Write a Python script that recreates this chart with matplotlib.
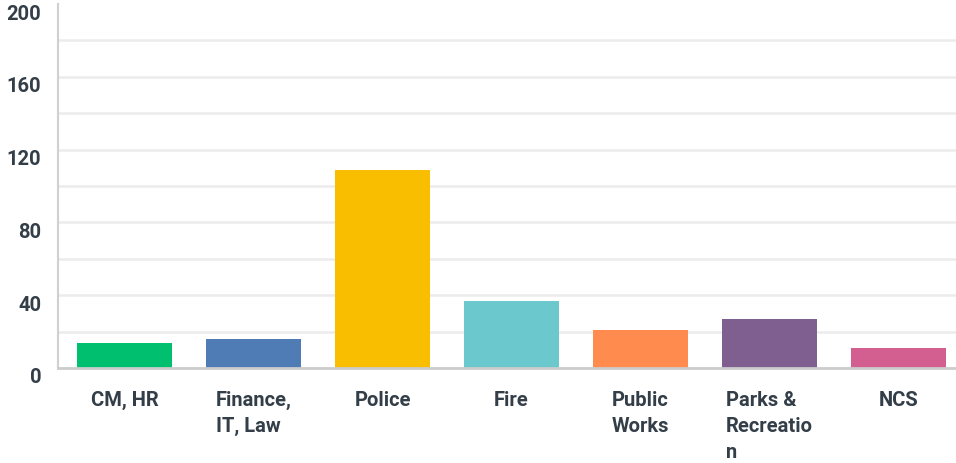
import matplotlib
matplotlib.use("Agg")
import matplotlib.pyplot as plt
import matplotlib.transforms as mtransforms

# Survey responses by department
departments = ["CM, HR", "Finance,\nIT, Law", "Police", "Fire",
               "Public\nWorks", "Parks &\nRecreatio\nn", "NCS"]
responses = [14, 16, 109, 37, 21, 27, 11]
bar_colors = ["#00bf6f", "#507cb6", "#f9be00", "#6bc8cd",
              "#ff8b4f", "#7f5f90", "#d25f90"]
y_labels = [0, 40, 80, 120, 160, 200]
grid_levels = [20, 40, 60, 80, 100, 120, 140, 160, 180]

text_color = "#333e48"
font = ["Roboto", "DejaVu Sans"]

W, H = 956, 464
fig = plt.figure(figsize=(W / 100, H / 100), dpi=100)
ax = fig.add_axes([58 / W, (H - 369) / H, (956 - 58) / W, (369 - 5) / H])

x = list(range(len(departments)))
ax.bar(x, responses, width=0.736, color=bar_colors, zorder=3)

ax.set_xlim(-0.516, 6.446)
ax.set_ylim(0, 200)

for g in grid_levels:
    ax.axhline(g, color="#ececec", lw=1.8, zorder=1)

for side in ["top", "right"]:
    ax.spines[side].set_visible(False)
ax.spines["left"].set_color("#d0d0d0")
ax.spines["left"].set_linewidth(1.5)
ax.spines["bottom"].set_color("#cccccc")
ax.spines["bottom"].set_linewidth(2)
ax.spines["bottom"].set_zorder(4)

ax.set_yticks(y_labels)
ax.set_yticklabels([str(v) for v in y_labels], fontsize=14.5, color=text_color,
                   family=font, weight="bold")
ax.tick_params(axis="y", length=0, pad=12)
offset = mtransforms.ScaledTranslation(0, -7 / 100, fig.dpi_scale_trans)
for lbl in ax.get_yticklabels():
    lbl.set_transform(lbl.get_transform() + offset)

ax.set_xticks(x)
ax.set_xticklabels(departments, fontsize=14.5, color=text_color, family=font,
                   weight="bold", linespacing=1.45, multialignment="left")
ax.tick_params(axis="x", length=0, pad=16)

fig.savefig("out.png", dpi=100)
